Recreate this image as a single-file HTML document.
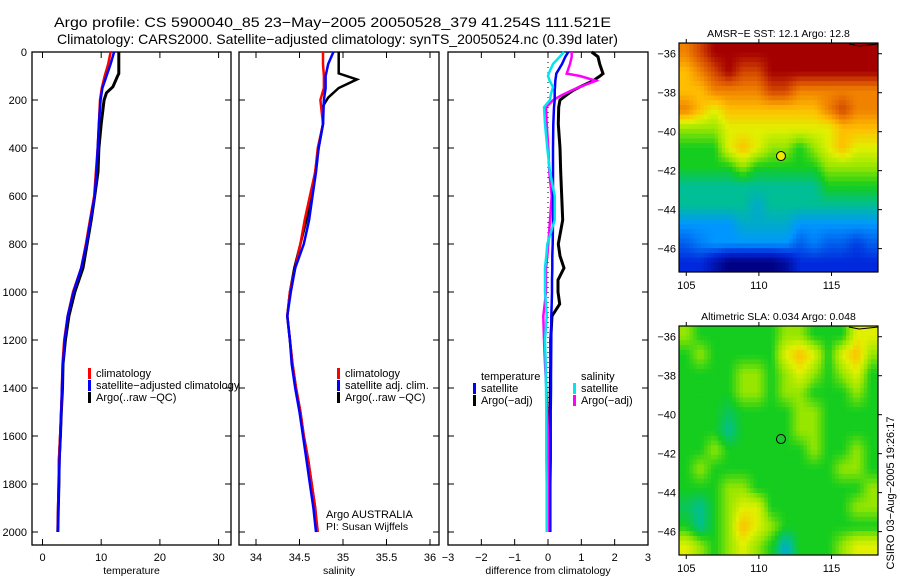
<!DOCTYPE html>
<html><head><meta charset="utf-8"><style>
html,body{margin:0;padding:0;background:#fff;}
svg{display:block;font-family:"Liberation Sans",sans-serif;}
</style></head><body>
<svg id="fig" width="900" height="580" viewBox="0 0 900 580" xmlns="http://www.w3.org/2000/svg">
<text x="54" y="27" font-size="14" textLength="557" lengthAdjust="spacingAndGlyphs">Argo profile: CS 5900040_85 23−May−2005 20050528_379 41.254S 111.521E</text>
<text x="57" y="44" font-size="14" textLength="561" lengthAdjust="spacingAndGlyphs">Climatology: CARS2000. Satellite−adjusted climatology: synTS_20050524.nc (0.39d later)</text>
<g id="g"></g>
</svg>
<script>
// ---------- data ----------
const depths = [0,50,100,150,200,300,400,500,600,700,800,900,1000,1100,1200,1300,1400,1500,1600,1700,1800,1900,2000];
const tempClim = [11.6,11.2,10.6,10.1,9.8,9.6,9.4,9.1,8.8,8.1,7.4,6.6,5.2,4.3,3.7,3.4,3.3,3.2,3.0,2.8,2.75,2.65,2.6];
const tempSat  = [12.2,11.6,10.9,10.2,9.9,9.6,9.4,9.2,8.9,8.2,7.5,6.6,5.3,4.3,3.8,3.5,3.3,3.2,3.05,2.9,2.8,2.7,2.6];
const argoTDepths = [0,90,100,145,170,200,300,400,500,600,700,800,900,1000,1100,1200,1300,1400,1500,1600,1700,1800,1900,2000];
const tempArgo = [13.0,13.0,12.8,12.0,10.9,10.5,10.0,9.6,9.45,8.9,8.3,7.6,6.9,5.5,4.5,3.9,3.5,3.4,3.2,3.05,2.85,2.8,2.7,2.6];
const salClim = [34.77,34.77,34.78,34.78,34.74,34.77,34.71,34.68,34.62,34.56,34.51,34.45,34.39,34.36,34.39,34.42,34.46,34.51,34.55,34.60,34.64,34.68,34.71];
const salSat  = [34.89,34.83,34.80,34.80,34.78,34.77,34.72,34.69,34.65,34.61,34.55,34.45,34.40,34.36,34.39,34.41,34.45,34.50,34.54,34.58,34.62,34.66,34.69];
const argoSDepths = [0,89,114,150,190,225,300,400,500,600,700,800,900,1000,1100,1200,1300,1400,1500,1600,1700,1800,1900,2000];
const salArgo = [34.95,34.95,35.16,34.95,34.83,34.77,34.77,34.72,34.68,34.64,34.58,34.51,34.44,34.39,34.36,34.39,34.42,34.46,34.51,34.55,34.60,34.64,34.68,34.70];
const diffDepths = [0,20,50,90,100,120,145,160,180,200,230,300,400,500,600,700,800,850,900,950,1000,1050,1100,1200,1300,1400,1500,1600,1700,1800,1900,2000];
const dTempSat  = [0.61,0.52,0.42,0.25,0.24,0.22,0.21,0.2,0.2,0.2,0.18,0.16,0.15,0.15,0.15,0.15,0.14,0.13,0.13,0.12,0.12,0.11,0.1,0.1,0.09,0.09,0.08,0.08,0.08,0.07,0.07,0.07];
const dTempArgo = [1.31,1.5,1.55,1.65,1.56,1.35,0.96,0.75,0.55,0.36,0.32,0.31,0.36,0.38,0.41,0.44,0.31,0.36,0.48,0.3,0.3,0.35,0.12,0.08,0.08,0.07,0.06,0.06,0.05,0.05,0.05,0.05];
const dSalSat   = [0.48,0.35,0.15,0.02,0.0,0.05,0.15,0.12,0.08,0.06,-0.12,-0.09,-0.02,0.06,0.2,0.2,-0.02,-0.05,-0.09,-0.09,-0.09,-0.06,-0.04,-0.09,-0.07,-0.06,-0.05,-0.05,-0.05,-0.04,-0.04,-0.04];
const dSalArgo  = [0.71,0.71,0.66,0.56,0.96,1.44,0.96,0.71,0.41,0.16,-0.06,-0.04,0.01,0.04,0.11,0.06,0.01,-0.02,-0.06,-0.06,-0.06,-0.1,-0.14,-0.12,-0.09,-0.05,-0.02,0.0,0.0,0.0,0.0,0.0];
const depthTicks = [0,200,400,600,800,1000,1200,1400,1600,1800,2000];
const tempTicks = [0,10,20,30];
const salTicks = [34,34.5,35,35.5,36];
const diffTicks = [-3,-2,-1,0,1,2,3];
const sstGrid = [
[8,9,10,10,10,10,10,10,10,10,10,10,10,10],
[7,8,9,10,9,9,10,10,10,10,10,10,10,10],
[7,7,8,8,8,8,9,9,8,8,8,8,8,8],
[8,7,6,7,7,7,7,7,7,7,8,9,8,8],
[5,5,5,6,6,6,6,6,6,6,6,7,7,7],
[4,4,4,6,7,6,5,5,4,5,6,7,6,6],
[4,4,4,4,5,4,4,4,4,4,5,5,5,5],
[3,3,3,3,3,3,3,3,3,3,4,4,4,4],
[3,3,3,3,3,2.5,3,3,3,3,3,3,3,3],
[2,2,2,2,2.5,2.5,2.5,2.5,2,2,2,2,2,2],
[1.5,1.8,2,2,2,2,2,2,1.5,1.8,1.5,1.5,1.2,1.5],
[1,1,0.5,0,0,0,0,0.3,1,1,1,1,1,1]];
const slaGrid = [
[5,4,4,4,4,4,4,5,5,4,4,4,6,6],
[4,5,4,4,4,4,4,6,7,6,4,6,7,5],
[4,4,4,4,5,5,4,5,6,5,4,5,6,4],
[4,4,4,4,5,5,4,5,5,4,4,4,5,4],
[4,4,4,3.5,4,4,4,4,5,5,4,4,4,4],
[4,4,4,3,4,4,4,4,5,5,4,4,4,4],
[4,4,5,4,4,4,4,4,4,5,4,4,5,4],
[4,5,4,4,4,4,4,4,4,4,4,5,5,4],
[4,4,4,5,5,4,4,4,4,4,4,4,4,5],
[3.5,3,4,5,6,6,4,4,4,4,4,4,5,5],
[4,3,4,5,7,6,5,4,4,4,4,4,4,4],
[6,5,4,5,6,5,4,2.5,4,4,4,5,6,6]];
const lonTicks = [105,110,115];
const latTicks = [-36,-38,-40,-42,-44,-46];
const argoLon = 111.52, argoLat = -41.25;

// ---------- helpers ----------
const NS="http://www.w3.org/2000/svg";
const G=document.getElementById('g');
function mk(tag,attrs,parent){const e=document.createElementNS(NS,tag);for(const k in attrs)e.setAttribute(k,attrs[k]);(parent||G).appendChild(e);return e;}
function txt(x,y,s,size,anchor,parent){const t=mk('text',{x:x,y:y,'font-size':size||11,'text-anchor':anchor||'start'},parent);t.textContent=s;return t;}
const TOP=52, BOT=545;
const yD = d => TOP + d*0.24;
const xT = v => 42.5 + v*5.87;
const xS = v => 256 + (v-34)*87;
const xDf = v => 548 + v*33.33;

function panel(name,x0,x1,ticks,xf,label,showDepthLabels){
  const g=mk('g',{});
  
  
  const r=mk('rect',{x:x0,y:TOP,width:x1-x0,height:BOT-TOP,fill:'none',stroke:'#000','stroke-width':1.3},g);
  
  
  depthTicks.forEach(d=>{
    const y=yD(d);
    mk('line',{x1:x0,x2:x0+6,y1:y,y2:y,stroke:'#000'},g);
    mk('line',{x1:x1-6,x2:x1,y1:y,y2:y,stroke:'#000'},g);
    if(showDepthLabels){const t=txt(x0-5,y+4,String(d),11,'end',g);
      
      }
  });
  ticks.forEach(v=>{
    const x=xf(v);
    if(x>=x0-0.5&&x<=x1+0.5){
      mk('line',{x1:x,x2:x,y1:TOP,y2:TOP+6,stroke:'#000'},g);
      mk('line',{x1:x,x2:x,y1:BOT-6,y2:BOT,stroke:'#000'},g);
    }
    const t=txt(x,BOT+16,String(v).replace('-','−'),11,'middle',g);
    
    
  });
  const lt=txt((x0+x1)/2,BOT+29,label,10.5,'middle',g);
  
  
  return g;
}
function line(g,vals,ds,xf,color,w,name){
  const pts=vals.map((v,i)=>xf(v).toFixed(1)+','+yD(ds[i]).toFixed(1)).join(' ');
  const p=mk('polyline',{points:pts,fill:'none',stroke:color,'stroke-width':w,'stroke-linejoin':'miter'},g);
  
  
}
function legend(g,x,y,color,label){
  const m=mk('rect',{x:x,y:y-8,width:3,height:11,fill:color},g);
  
  
  const t=txt(x+8,y+1,label,11,'start',g);
  
  
}

// ---------- panel 1 ----------
const p1=panel('temperature-panel',32,231,tempTicks,xT,'temperature',true);
line(p1,tempArgo,argoTDepths,xT,'#000',3,'temperature-argo-line');
line(p1,tempClim,depths,xT,'#ff0000',2.5,'temperature-climatology-line');
line(p1,tempSat,depths,xT,'#0000ff',2.5,'temperature-satellite-line');
legend(p1,88,376,'#ff0000','climatology');
legend(p1,88,388,'#0000ff','satellite−adjusted climatology');
legend(p1,88,400,'#000','Argo(..raw −QC)');

// ---------- panel 2 ----------
const p2=panel('salinity-panel',239,439,salTicks,xS,'salinity',false);
line(p2,salArgo,argoSDepths,xS,'#000',2.5,'salinity-argo-line');
line(p2,salClim,depths,xS,'#ff0000',2.5,'salinity-climatology-line');
line(p2,salSat,depths,xS,'#0000ff',2.5,'salinity-satellite-line');
legend(p2,337,376,'#ff0000','climatology');
legend(p2,337,388,'#0000ff','satellite adj. clim.');
legend(p2,337,400,'#000','Argo(..raw −QC)');
const a1=txt(326,518,'Argo AUSTRALIA',11,'start',p2);


const a2=txt(326,530,'PI: Susan Wijffels',10.5,'start',p2);



// ---------- panel 3 ----------
const p3=panel('difference-panel',448,648,diffTicks,xDf,'difference from climatology',false);
const z=mk('line',{x1:xDf(0),x2:xDf(0),y1:TOP,y2:yD(2000),stroke:'#000','stroke-dasharray':'1,4'},p3);


line(p3,dTempArgo,diffDepths,xDf,'#000',3,'diff-temperature-argo-line');
line(p3,dSalArgo,diffDepths,xDf,'#ff00ff',2.5,'diff-salinity-argo-line');
line(p3,dTempSat,diffDepths,xDf,'#0000ff',2.5,'diff-temperature-satellite-line');
line(p3,dSalSat,diffDepths,xDf,'#00e5ee',2.5,'diff-salinity-satellite-line');
const th=txt(481,380,'temperature',11,'start',p3);


const sh=txt(581,380,'salinity',11,'start',p3);


legend(p3,473,391,'#0000ff','satellite');
legend(p3,473,403,'#000','Argo(−adj)');
legend(p3,573,391,'#00e5ee','satellite');
legend(p3,573,403,'#ff00ff','Argo(−adj)');

// ---------- maps ----------
const jet=[[0,[0,0,130]],[1,[0,40,220]],[2,[0,150,255]],[3,[0,190,150]],[4,[20,205,30]],[5,[150,230,0]],[6,[225,240,0]],[7,[255,190,0]],[8,[240,130,0]],[9,[210,70,0]],[10,[165,0,0]]];
function col(v){for(let i=0;i<jet.length-1;i++){const a=jet[i],b=jet[i+1];if(v<=b[0]){const t=(v-a[0])/(b[0]-a[0]);const c=a[1].map((q,k)=>Math.round(q+(b[1][k]-q)*t));return 'rgb('+c.join(',')+')';}}return 'rgb(165,0,0)';}
const defs=mk('defs',{});
function sample(grid,fr,fc){
  const nr=grid.length,nc=grid[0].length;
  const r=Math.min(Math.max(fr-0.5,0),nr-1), c=Math.min(Math.max(fc-0.5,0),nc-1);
  const r0=Math.floor(r),c0=Math.floor(c),r1=Math.min(r0+1,nr-1),c1=Math.min(c0+1,nc-1);
  const tr=r-r0,tc=c-c0;
  return (grid[r0][c0]*(1-tc)+grid[r0][c1]*tc)*(1-tr)+(grid[r1][c0]*(1-tc)+grid[r1][c1]*tc)*tr;
}
function map(name,y0,grid,title,markerColor){
  const x0=679,x1=878,y1=y0+229;
  const xL=v=>x0+(v-104.5)*(199/13.7);
  const yL=v=>y0+(-35.45-v)*(229/11.75);
  const g=mk('g',{});
  
  
  const cp=mk('clipPath',{id:'cp'+y0},defs);
  mk('rect',{x:x0,y:y0,width:x1-x0,height:y1-y0},cp);
  const hg=mk('g',{'clip-path':'url(#cp'+y0+')'},g);
  const nr=grid.length,nc=grid[0].length,S=4;
  const cw=(x1-x0)/(nc*S),ch=(y1-y0)/(nr*S);
  for(let r=0;r<nr*S;r++)for(let c=0;c<nc*S;c++){
    const v=sample(grid,(r+0.5)/S,(c+0.5)/S);
    const cell=mk('rect',{x:(x0+c*cw).toFixed(2),y:(y0+r*ch).toFixed(2),width:(cw+0.5).toFixed(2),height:(ch+0.5).toFixed(2),fill:col(v)},hg);
    
    
  }
  mk('polyline',{points:(x0+170)+','+(y0+1)+' '+(x0+180)+','+(y0+3)+' '+(x0+190)+','+(y0+2)+' '+x1+','+(y0+1),fill:'none',stroke:'#000','stroke-width':1},hg);
  const fr=mk('rect',{x:x0,y:y0,width:x1-x0,height:y1-y0,fill:'none',stroke:'#000','stroke-width':1.2},g);
  
  
  lonTicks.forEach(v=>{const x=xL(v);
    mk('line',{x1:x,x2:x,y1:y0-4,y2:y0,stroke:'#000'},g);
    mk('line',{x1:x,x2:x,y1:y1,y2:y1+4,stroke:'#000'},g);
    const t=txt(x,y1+17,String(v),11,'middle',g);
    
    });
  latTicks.forEach(v=>{const y=yL(v);
    mk('line',{x1:x1,x2:x1+4,y1:y,y2:y,stroke:'#000'},g);
    const t=txt(x0-3,y+4,String(v).replace('-','−'),11,'end',g);
    
    });
  const tt=txt((x0+x1)/2,y0-6,title,10.5,'middle',g);
  
  
  const m=mk('circle',{cx:xL(argoLon),cy:yL(argoLat),r:4.5,fill:markerColor,stroke:'#000','stroke-width':1},g);
  
  
}
map('sst-map',43,sstGrid,'AMSR−E SST: 12.1 Argo: 12.8','#f0e800');
map('sla-map',326,slaGrid,'Altimetric SLA: 0.034 Argo: 0.048','#20c830');
const cr=txt(0,0,'CSIRO 03−Aug−2005 19:26:17',11,'middle');
cr.setAttribute('transform','translate(894,493) rotate(-90)');


</script>
</body></html>
